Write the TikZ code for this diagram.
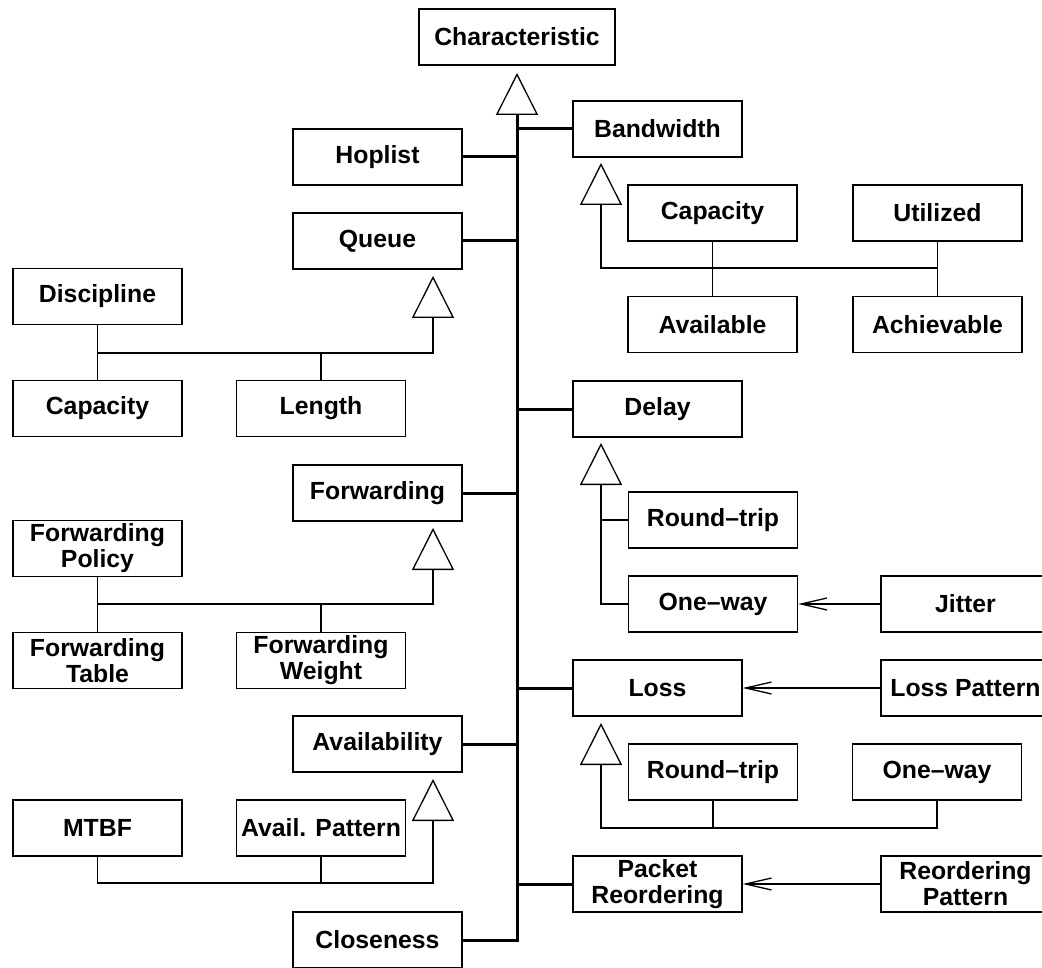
\documentclass[tikz,border=0pt]{standalone}
\usepackage{fontspec}
\setmainfont{Liberation Sans}
\usetikzlibrary{arrows.meta}

\begin{document}
\begin{tikzpicture}[x=1pt, y=-1pt,
  box/.style={draw, line width=1.3pt, minimum width=169pt, minimum height=56pt, inner sep=0pt,
    align=center, font=\bfseries\fontsize{24.8}{26}\selectfont},
  thin/.style={line width=1.3pt},
  trunk/.style={line width=3pt},
  isa/.style={-{Triangle[open, length=42pt, width=42pt, line width=1.3pt]}},
  uses/.style={thin, -{Straight Barb[length=26pt, width=12pt, line width=1.3pt]}}]
\useasboundingbox (0,0) rectangle (1042,968);

% the root and its trunk
\node[box, minimum width=196pt] (char) at (517,37) {Characteristic};
\node[box] (hop)     at (377.5,157) {Hoplist};
\node[box] (queue)   at (377.5,241) {Queue};
\node[box] (fwd)     at (377.5,493) {Forwarding};
\node[box] (availab) at (377.5,744) {Availability};
\node[box] (close)   at (377.5,940) {Closeness};
\node[box] (bw)      at (657.5,129) {Bandwidth};
\node[box] (delay)   at (657.5,409) {Delay};
\node[box] (loss)    at (657.5,688) {Loss};
\node[box] (pkt)     at (657.5,884) {Packet\\Reordering};

% bandwidth
\node[box] (bcap)  at (712.5,213) {Capacity};
\node[box] (util)  at (937.5,213) {Utilized};
\node[box] (avail) at (712.5,324.5) {Available};
\node[box] (achv)  at (937.5,324.5) {Achievable};

% queue
\node[box] (disc) at (97.5,296.5) {Discipline};
\node[box] (qcap) at (97.5,408.5) {Capacity};
\node[box] (qlen) at (321,408.5) {Length};

% forwarding
\node[box] (fpol) at (97.5,548.5) {Forwarding\\Policy};
\node[box] (ftab) at (97.5,660.5) {Forwarding\\Table};
\node[box] (fwt)  at (321,660.5) {Forwarding\\Weight};

% delay and loss
\node[box] (rtt)    at (713,520) {Round--trip};
\node[box] (oway)   at (713,604) {One--way};
\node[box] (jitter) at (965.5,604) {Jitter};
\node[box] (lpat)   at (965.5,688) {Loss Pattern};
\node[box] (lrtt)   at (713,772) {Round--trip};
\node[box] (loway)  at (937,772) {One--way};
\node[box] (rpat)   at (965.5,884) {Reordering\\Pattern};

% availability
\node[box] (mtbf) at (97.5,828) {MTBF};
\node[box] (apat) at (321,828) {Avail. Pattern};

\coordinate (ctip) at (517,73);
\draw[trunk, isa, line join=miter] (close.east) -| (ctip);
\foreach \n in {hop,queue,fwd,availab}
  \draw[trunk] (\n.east) -- (\n.east -| ctip);
\foreach \n in {bw,delay,loss,pkt}
  \draw[trunk] (\n.west -| ctip) -- (\n.west);

\coordinate (btip) at (601,163);
\coordinate (bj) at (601,268);
\draw[thin] (bcap.south) -- (avail.north);
\draw[thin] (util.south) -- (achv.north);
\draw[thin, isa] (util.south |- bj) -- (bj) -- (btip);

\coordinate (qtip) at (433,276);
\coordinate (qj) at (433,353);
\draw[thin] (disc.south) -- (qcap.north);
\draw[thin, isa] (disc.south |- qj) -- (qj) -- (qtip);
\draw[thin] (qlen.north) -- (qlen.north |- qj);

\coordinate (ftip) at (433,528);
\coordinate (fj) at (433,604);
\draw[thin] (fpol.south) -- (ftab.north);
\draw[thin, isa] (fpol.south |- fj) -- (fj) -- (ftip);
\draw[thin] (fwt.north) -- (fwt.north |- fj);

\coordinate (dtip) at (601,443);
\draw[thin, isa] (oway.west) -| (dtip);
\draw[thin] (rtt.west) -- (rtt.west -| dtip);

\coordinate (ltip) at (601,723);
\coordinate (lj) at (601,828);
\draw[thin, isa] (loway.south) |- (lj) -- (ltip);
\draw[thin] (lrtt.south) -- (lrtt.south |- lj);

\coordinate (atip) at (433,779);
\coordinate (aj) at (433,883);
\draw[thin, isa] (mtbf.south) |- (aj) -- (atip);
\draw[thin] (apat.south) -- (apat.south |- aj);

\draw[uses] (jitter.west) -- (oway.east);
\draw[uses] (lpat.west) -- (loss.east);
\draw[uses] (rpat.west) -- (pkt.east);
\end{tikzpicture}
\end{document}
